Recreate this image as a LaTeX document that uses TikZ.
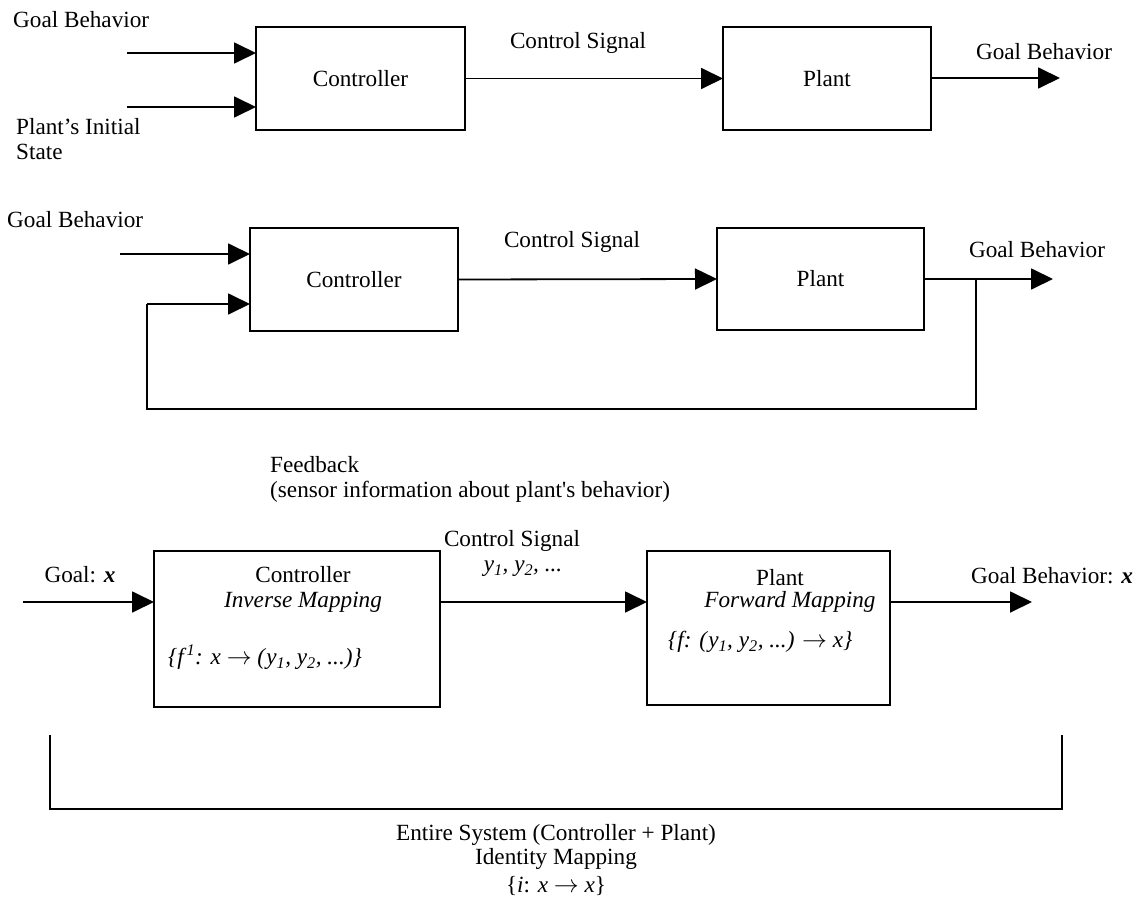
\documentclass[tikz,border=0pt]{standalone}
\usepackage{fontspec}
\setmainfont{Liberation Serif}
\usetikzlibrary{arrows.meta}
\tikzset{
  lbl/.style={font=\fontsize{23.2}{25}\selectfont, inner sep=0pt},
  blk/.style={draw, line width=1.8pt, inner sep=0pt, outer sep=0pt},
  wire/.style={line width=1.8pt},
  flow/.style={line width=1.8pt, -{Triangle[length=22pt,width=21pt]}},
}
\newcommand{\vy}[1]{\textit{y}\textsubscript{\textit{#1}}}
\newcommand{\maparrow}{\ensuremath{\rightarrow}}
\begin{document}
\begin{tikzpicture}[x=1pt,y=-1pt]
\useasboundingbox (0,0) rectangle (1146,899);

% ---------- open loop ----------
\node[blk, lbl, minimum width=209pt, minimum height=103pt] (c1) at (360.5,78.5) {Controller};
\node[blk, lbl, minimum width=208pt, minimum height=103pt] (p1) at (827,78.5) {Plant};
\coordinate (in1a) at (127,53);
\coordinate (in1b) at (127,107);
\coordinate (out1) at (1060,78);
\draw[flow] (in1a) -- (in1a -| c1.west);
\draw[flow] (in1b) -- (in1b -| c1.west);
\draw[flow] (c1.east) -- (p1.west);
\draw[flow] (p1.east |- out1) -- (out1);
\node[lbl, anchor=west] (g1) at (13,20) {Goal Behavior};
\node[lbl, anchor=west, align=left] (s1) at (16,139) {Plant’s Initial\\State};
\node[lbl] (cs1) at (578,43) {Control Signal};
\node[lbl] (go1) at (1044,52) {Goal Behavior};

% ---------- closed loop ----------
\node[blk, lbl, minimum width=208pt, minimum height=103pt] (c2) at (354,279.5) {Controller};
\node[blk, lbl, minimum width=207pt, minimum height=102pt] (p2) at (820.5,279) {Plant};
\coordinate (in2) at (120,254);
\coordinate (fbin) at (147,304);
\coordinate (tap) at (976,279);
\coordinate (out2) at (1053,279);
\coordinate (fbr) at (976,409);
\coordinate (fbl) at (147,409);
\draw[flow] (in2) -- (in2 -| c2.west);
\draw[flow] (c2.east) -- (p2.west);
\draw[flow] (p2.east) -- (out2);
\draw[wire] (tap) -- (fbr) -- (fbl) -- (fbin);
\draw[flow] (fbin) -- (fbin -| c2.west);
\node[lbl, anchor=west] (g2) at (7,220) {Goal Behavior};
\node[lbl] (cs2) at (572,242) {Control Signal};
\node[lbl] (go2) at (1037,250) {Goal Behavior};
\node[lbl, anchor=west, align=left] (fb) at (270,479.5) {Feedback\\(sensor information about plant\textquotesingle s behavior)};

% ---------- inverse / forward mapping ----------
\node[blk, minimum width=286pt, minimum height=156pt] (c3) at (297,629) {};
\node[blk, minimum width=243pt, minimum height=154pt] (p3) at (768.5,628) {};
\coordinate (in3) at (23,602);
\coordinate (out3) at (1032,602);
\draw[flow] (in3) -- (in3 -| c3.west);
\draw[flow] (c3.east |- in3) -- (in3 -| p3.west);
\draw[flow] (p3.east |- out3) -- (out3);
\node[lbl] (c3a) at (303,575) {Controller};
\node[lbl] (c3b) at (303,602) {\textit{Inverse Mapping}};
\node[lbl, anchor=west] (c3c) at (168,657) {\textit{\{f}\textsuperscript{\textit{1}}\textit{: x} \maparrow\ \textit{(}\vy{1}\textit{, }\vy{2}\textit{, ...)\}}};
\node[lbl] (p3a) at (780,578) {Plant};
\node[lbl] (p3b) at (790,602) {\textit{Forward Mapping}};
\node[lbl, anchor=west] (p3c) at (668,642) {\textit{\{f: (}\vy{1}\textit{, }\vy{2}\textit{, ...)} \maparrow\ \textit{x\}}};
\node[lbl] (g3) at (80,575) {Goal: \textbf{\textit{x}}};
\node[lbl] (cs3) at (512,541) {Control Signal};
\node[lbl] (ys3) at (523,569) {\vy{1}\textit{, }\vy{2}\textit{, ...}};
\node[lbl] (go3) at (1052,576) {Goal Behavior: \textbf{\textit{x}}};

% system bracket and its caption
\coordinate (bl) at (50,735);
\coordinate (br) at (1062,735);
\draw[wire] (bl) -- (bl |- 0,809) -- (br |- 0,809) -- (br);
\node[lbl] (sysa) at (556,835) {Entire System (Controller + Plant)};
\node[lbl] (sysb) at (556,859) {Identity Mapping};
\node[lbl] (sysc) at (556,886) {\{\textit{i}: \textit{x} \maparrow\ \textit{x}\}};
\end{tikzpicture}
\end{document}
